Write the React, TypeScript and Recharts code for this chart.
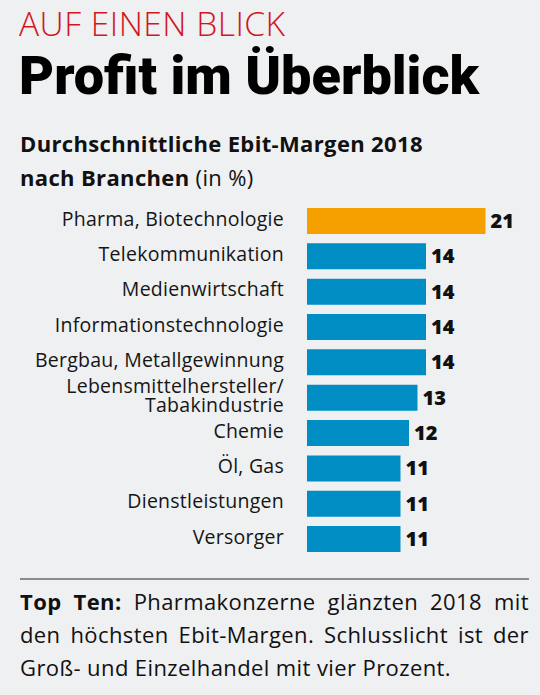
import React from 'react';
import { BarChart, Bar, XAxis, YAxis, Cell, LabelList } from 'recharts';

const categories = [
  'Pharma, Biotechnologie',
  'Telekommunikation',
  'Medienwirtschaft',
  'Informationstechnologie',
  'Bergbau, Metallgewinnung',
  'Lebensmittelhersteller/\nTabakindustrie',
  'Chemie',
  'Öl, Gas',
  'Dienstleistungen',
  'Versorger',
];
const margins = [21, 14, 14, 14, 14, 13, 12, 11, 11, 11];

const data = categories.map((name, i) => ({ name, value: margins[i] }));

const FONT = 'Roboto, "Open Sans", sans-serif';
const BODY = '"Open Sans", Roboto, sans-serif';
const BG = '#eff0f2';
const ORANGE = '#f6a000';
const BLUE = '#008dc4';

const CategoryTick = (props: any) => {
  const { x, y, payload } = props;
  const lines = String(payload.value).split('\n');
  const common = {
    textAnchor: 'end' as const,
    fontFamily: BODY,
    fontSize: 19.5,
    letterSpacing: 0.25,
    fill: '#151515',
  };
  if (lines.length === 1) {
    return (
      <text x={x} y={y + 5} {...common}>
        {lines[0]}
      </text>
    );
  }
  return (
    <text x={x} {...common}>
      {lines.map((l, i) => (
        <tspan key={i} x={x} y={y + 5 - 9.5 + i * 19.5}>
          {l}
        </tspan>
      ))}
    </text>
  );
};

export default function App() {
  return (
    <div
      style={{
        position: 'absolute',
        top: 0,
        left: 0,
        width: 540,
        height: 695,
        background: BG,
        overflow: 'hidden',
      }}
    >
      <div style={{ position: 'absolute', top: 0, left: 0 }}>
        <BarChart
          width={540}
          height={695}
          data={data}
          layout="vertical"
          margin={{ top: 203, right: 20.5, bottom: 138.6, left: 0 }}
        >
          <XAxis type="number" domain={[0, 25]} hide />
          <YAxis
            type="category"
            dataKey="name"
            width={307}
            axisLine={false}
            tickLine={false}
            tickSize={0}
            tickMargin={23}
            interval={0}
            tick={<CategoryTick />}
          />
          <Bar dataKey="value" barSize={26} isAnimationActive={false}>
            {data.map((d, i) => (
              <Cell key={i} fill={i === 0 ? ORANGE : BLUE} />
            ))}
            <LabelList
              dataKey="value"
              position="right"
              offset={5}
              style={{ fontFamily: BODY, fontSize: 20, fontWeight: 800, fill: '#111' }}
            />
          </Bar>
        </BarChart>
      </div>
      <svg
        width={540}
        height={695}
        style={{ position: 'absolute', top: 0, left: 0, pointerEvents: 'none' }}
      >
        <text
          x={19}
          y={36}
          fontFamily={BODY}
          fontSize={33.5}
          fontWeight={300}
          letterSpacing={0.5}
          fill="#d2151f"
        >
          AUF EINEN BLICK
        </text>
        <text x={19} y={94.3} fontFamily={FONT} fontSize={54} fontWeight={900} fill="#000">
          Profit im Überblick
        </text>
        <text
          x={20}
          y={152}
          fontFamily={BODY}
          fontSize={22}
          fontWeight={700}
          letterSpacing={0.35}
          fill="#111"
        >
          Durchschnittliche Ebit-Margen 2018
        </text>
        <text x={20} y={186} fontFamily={BODY} fontSize={22} letterSpacing={0.35} fill="#111">
          <tspan fontWeight={700}>nach Branchen</tspan>
          <tspan> (in %)</tspan>
        </text>
        <line x1={20} x2={529} y1={579} y2={579} stroke="#8c8c8c" strokeWidth={2} />
      </svg>
      <div
        style={{
          position: 'absolute',
          left: 20,
          top: 585,
          width: 509,
          fontFamily: BODY,
          fontSize: 22,
          letterSpacing: 0.4,
          lineHeight: '33px',
          color: '#111',
        }}
      >
        <div style={{ textAlign: 'justify', textAlignLast: 'justify' }}>
          <b>Top Ten:</b> Pharmakonzerne glänzten 2018 mit
        </div>
        <div style={{ textAlign: 'justify', textAlignLast: 'justify' }}>
          den höchsten Ebit-Margen. Schlusslicht ist der
        </div>
        <div>Groß- und Einzelhandel mit vier Prozent.</div>
      </div>
    </div>
  );
}
